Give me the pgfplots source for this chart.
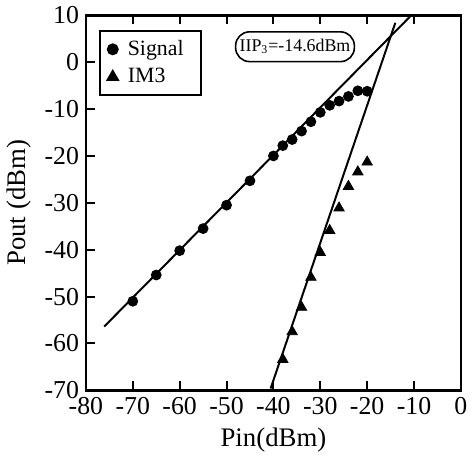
\documentclass[border=0pt]{standalone}
\usepackage{fontspec}
\setmainfont{Liberation Serif}
\usepackage{pgfplots}
\pgfplotsset{compat=1.18}
\begin{document}
\begin{tikzpicture}
\begin{axis}[
  scale only axis, width=189pt, height=189pt,
  xmin=-80, xmax=0, ymin=-70, ymax=10,
  xtick={-80,-70,...,0}, ytick={-70,-60,...,10},
  tick align=inside, xtick pos=both, ytick pos=left,
  major tick length=4.5pt,
  axis line style={line width=1.4pt},
  every tick/.style={line width=1pt, black},
  tick label style={font=\fontsize{13}{13}\selectfont},
  /pgf/number format/assume math mode=true,
  xlabel={Pin(dBm)}, ylabel={Pout (dBm)},
  label style={font=\fontsize{13.5}{14}\selectfont},
  legend style={at={(0.034,0.960)}, anchor=north west, draw=black,
                line width=1pt, font=\fontsize{11}{12}\selectfont,
                inner xsep=4pt, inner ysep=3pt, row sep=2pt,
                nodes={inner xsep=5pt, inner ysep=1.5pt}},
  legend cell align=left,
]
% fitted lines
\addplot[black, line width=1pt, forget plot]
  coordinates {(-76.1,-56.4) (-10.6,10)};
\addplot[black, line width=1pt, forget plot]
  coordinates {(-40.6,-69.6) (-14.0,8.4)};

% measured fundamental
\addplot[only marks, mark=*, mark size=2.5pt, black]
  coordinates {(-70,-51.0) (-65,-45.4) (-60,-40.2) (-55,-35.5) (-50,-30.5)
               (-45,-25.3) (-40,-20.0) (-38,-17.8) (-36,-16.5) (-34,-14.7)
               (-32,-12.7) (-30,-10.7) (-28,-9.2) (-26,-8.3) (-24,-7.3)
               (-22,-6.1) (-20,-6.2)};
\addlegendentry{Signal}

% measured third-order product
\addplot[only marks, mark=triangle*, mark size=3pt, black]
  coordinates {(-38,-63.4) (-36,-57.5) (-34,-52.3) (-32,-45.9) (-30,-40.6)
               (-28,-35.9) (-26,-31.1) (-24,-26.5) (-22,-23.4) (-20,-21.3)};
\addlegendentry{IM3}

\node[draw, rounded corners=7pt, line width=0.8pt, inner xsep=2pt,
      minimum height=15pt, font=\fontsize{9}{10}\selectfont]
  at (axis cs:-35.4,3.3) {IIP\textsubscript{3}=-14.6dBm};
\end{axis}
\end{tikzpicture}
\end{document}
